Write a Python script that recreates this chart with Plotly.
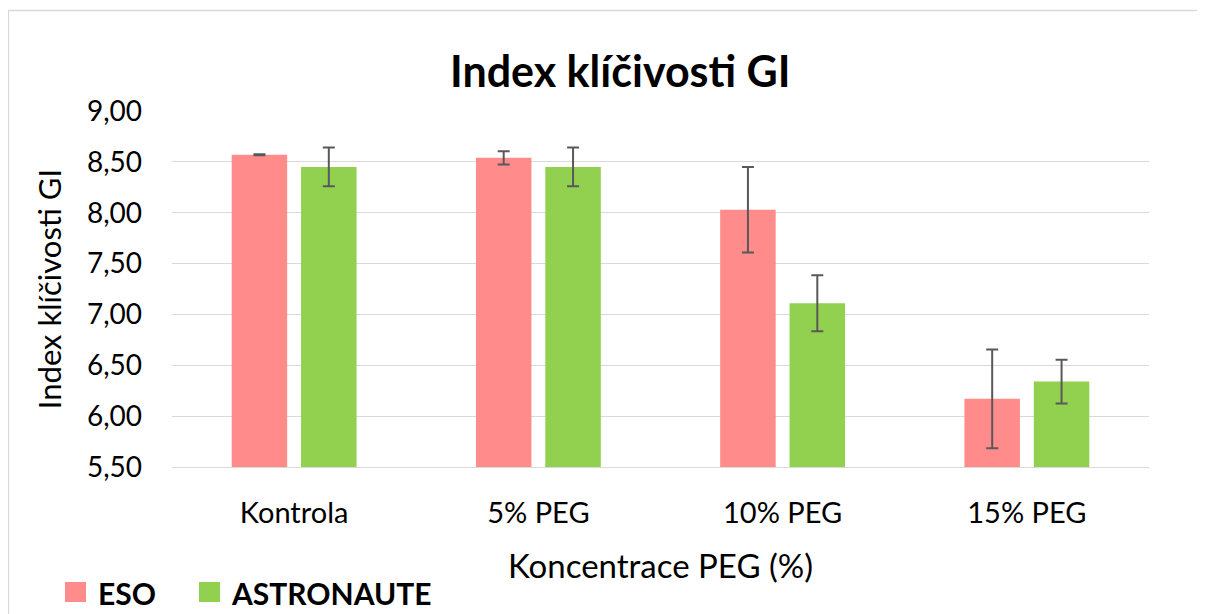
import plotly.graph_objects as go

categories = ["Kontrola", "5% PEG", "10% PEG", "15% PEG"]
series_names = ["ESO", "ASTRONAUTE"]
eso_values = [8.57, 8.54, 8.03, 6.17]
eso_err = [0.005, 0.065, 0.42, 0.485]
astro_values = [8.45, 8.45, 7.11, 6.34]
astro_err = [0.19, 0.19, 0.275, 0.215]
y_ticks = [5.5, 6.0, 6.5, 7.0, 7.5, 8.0, 8.5, 9.0]
colors = ["#FF8B8B", "#92D050"]

FONT = "Lato"
W, H = 1205, 614
L, R, T, B = 164, 64, 103, 155
PW, PH = W - L - R, H - T - B


def px(x):
    return (x - L) / PW


def py(y):
    return (H - B - y) / PH


ERR = dict(type="data", visible=True, color="#595959", thickness=2, width=6)

fig = go.Figure()
for name, vals, errs, col in [(series_names[0], eso_values, eso_err, colors[0]),
                              (series_names[1], astro_values, astro_err, colors[1])]:
    fig.add_trace(go.Bar(name=name, x=categories, y=vals,
                         error_y=dict(array=errs, **ERR),
                         marker=dict(color=col, line=dict(width=0)),
                         showlegend=False))

annotations = [
    dict(text="<b>Index klíčivosti GI</b>", xref="paper", yref="paper",
         x=px(612.5), y=py(62), xanchor="center", yanchor="middle",
         showarrow=False, font=dict(family=FONT, size=43, color="black")),
]
shapes = [
    dict(type="rect", xref="paper", yref="paper",
         x0=px(0.5), x1=px(1196), y0=py(700), y1=py(2.5),
         line=dict(color="#d9d9d9", width=1.3), fillcolor="rgba(0,0,0,0)", layer="below"),
]
# manual legend (squares + bold labels)
leg_sq_x = [57, 191]
leg_tx_x = [88, 221]
for i, name in enumerate(series_names):
    shapes.append(dict(type="rect", xref="paper", yref="paper",
                       x0=px(leg_sq_x[i]), x1=px(leg_sq_x[i] + 21),
                       y0=py(594), y1=py(574),
                       line=dict(width=0), fillcolor=colors[i]))
    annotations.append(dict(text=f"<b>{name}</b>", xref="paper", yref="paper",
                            x=px(leg_tx_x[i]), y=py(585), xanchor="left", yanchor="middle",
                            showarrow=False, font=dict(family=FONT, size=30, color="black")))

fig.update_layout(
    width=W, height=H,
    margin=dict(l=L, r=R, t=T, b=B),
    paper_bgcolor="white", plot_bgcolor="white",
    separators=", ",
    barmode="group", bargap=0.432, bargroupgap=0.2,
    font=dict(family=FONT, color="black", size=28),
    showlegend=False,
    annotations=annotations,
    shapes=shapes,
)
fig.update_yaxes(range=[5.5, 9.0], tickvals=y_ticks, tickformat=".2f",
                 showgrid=True, gridcolor="#d9d9d9", gridwidth=1.3,
                 zeroline=False, showline=False, ticks="", ticklabelstandoff=29,
                 tickfont=dict(family=FONT, size=28, color="black"),
                 title=dict(text="Index klíčivosti GI", standoff=16,
                            font=dict(family=FONT, size=31, color="black")))
fig.update_xaxes(showgrid=False, showline=True, linecolor="#d9d9d9", linewidth=1.3,
                 ticks="", ticklabelstandoff=20,
                 tickfont=dict(family=FONT, size=29, color="black"),
                 title=dict(text="Koncentrace PEG (%)", standoff=26,
                            font=dict(family=FONT, size=33, color="black")))

fig.write_html("out.html")
